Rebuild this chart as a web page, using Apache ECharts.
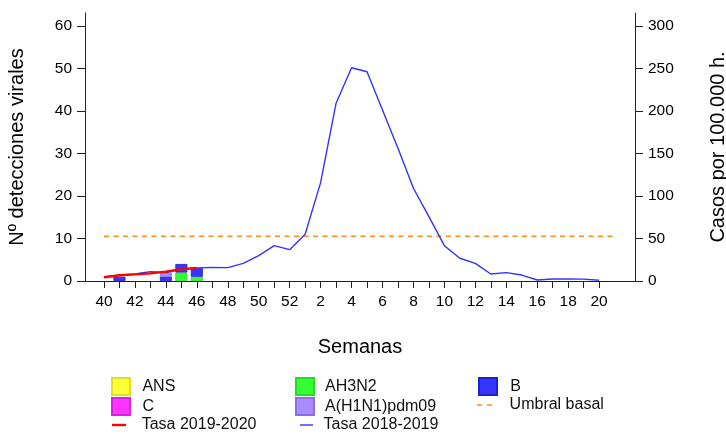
<!DOCTYPE html>
<html>
<head>
<meta charset="utf-8">
<script src="https://cdn.jsdelivr.net/npm/echarts@6/dist/echarts.min.js"></script>
<style>html,body{margin:0;padding:0;background:#fff}#c{width:726px;height:435px}</style>
</head>
<body>
<div id="c"></div>
<script>
// Week labels (x categories), index 0 = week 40
const weeks = [40,41,42,43,44,45,46,47,48,49,50,51,52,1,2,3,4,5,6,7,8,9,10,11,12,13,14,15,16,17,18,19,20,21];
const tickWeeks = [40,41,42,43,44,45,46,47,48,49,50,51,52,1,2,3,4,5,6,7,8,9,10,11,12,13,14,15,16,17,18,19,20];
const labelWeeks = [40,42,44,46,48,50,52,2,4,6,8,10,12,14,16,18,20];

// Virus detections 2019-2020 (weeks 40..46), left axis
const detWeeks = [40,41,42,43,44,45,46];
const detANS   = [0,0,0,0,0,0,0];
const detC     = [0,0,0,0,0,0,0];
const detAH3N2 = [0,0,0,0,0,2,1];
const detB     = [0,1,0,0,1,2,2];
const detH1N1  = [0,0,0,0,1,0,0];

// Rates per 100.000 h. (right axis)
const rate1920 = [4.3,6.7,7.8,9,11,14,15.3];
const rate1819 = [5,6.7,8.2,11,10,13.7,15.3,16,15.7,20.8,29.8,41.5,36.8,55,115.6,209,250.6,245.9,201,156,109,75.6,41.5,26.7,20.8,8.2,9.8,7,1.2,2.4,2.3,2.2,0.8];
const umbralWeeks = [40,21];
const umbralValue = 52.6;

const leftTicks = [0,10,20,30,40,50,60];
const rightTicks = [0,50,100,150,200,250,300];

const idx = w => weeks.indexOf(w);
const FONT = "'Liberation Sans', Arial, sans-serif";
const AX = '#222';
const fs = 15.5;
const lfs = 16;
const nfs = 20;

// [value, weekIndex] so the stacked dimension is the value one
function barData(arr){ return detWeeks.map((w,i)=>[arr[i] === 0 ? null : arr[i], idx(w)]); }

const chart = echarts.init(document.getElementById('c'), null, {renderer:'canvas'});

function leg(name, left, top, w, h, pad, icon){
  return {data:[{name:name, icon:icon}], left:left, top:top, itemWidth:w, itemHeight:h, padding:0, itemGap:0,
    textStyle:{fontFamily:FONT, fontSize:lfs, color:'#111', padding:[0,0,0,pad]}, selectedMode:false};
}

const option = {
  animation:false,
  textStyle:{fontFamily:FONT},
  grid:{left:85, right:91, top:13, bottom:154, outerBoundsMode:'none', containLabel:false},
  legend:[
    leg('ANS', 111, 377, 18, 17, 7.4, 'rect'),
    leg('AH3N2', 295, 377, 18, 17, 6, 'rect'),
    leg('B', 478, 377, 18, 17, 8.3, 'rect'),
    leg('C', 111, 397, 18, 17, 7.4, 'rect'),
    leg('A(H1N1)pdm09', 295, 397, 18, 17, 6, 'rect'),
    leg('Umbral basal', 477, 397, 15, 17, 12.6, 'path://M0,0h5v1.3h-5z M9.5,0h5v1.3h-5z'),
    leg('Tasa 2019-2020', 112, 417, 14, 17, 10.7, 'path://M0,0h14v2.4h-14z'),
    leg('Tasa 2018-2019', 300, 417, 13, 17, 5.6, 'path://M0,0h13v1.4h-13z')
  ],
  xAxis:{
    type:'value', position:'bottom', min:-1.228, max:34.32,
    name:'Semanas', nameLocation:'middle', nameGap:56,
    nameTextStyle:{fontFamily:FONT, fontSize:nfs, color:'#000'},
    axisLine:{show:true, onZero:false, lineStyle:{color:AX, width:1}},
    axisTick:{show:true, length:7, customValues: tickWeeks.map(idx), lineStyle:{color:AX}},
    axisLabel:{customValues: labelWeeks.map(idx), formatter: v => String(weeks[Math.round(v)]), margin:13, fontSize:fs, color:'#000', fontFamily:FONT},
    splitLine:{show:false}
  },
  yAxis:[
    {type:'value', position:'left', min:0, max:63,
     name:'Nº detecciones virales', nameLocation:'middle', nameGap:58,
     nameTextStyle:{fontFamily:FONT, fontSize:nfs, color:'#000'},
     axisLine:{show:true, onZero:false, lineStyle:{color:AX}},
     axisTick:{show:true, length:8, customValues:leftTicks, lineStyle:{color:AX}},
     axisLabel:{customValues:leftTicks, margin:13, fontSize:fs, color:'#000', fontFamily:FONT},
     splitLine:{show:false}},
    {type:'value', position:'right', min:0, max:315,
     name:'Casos por 100.000 h.', nameLocation:'middle', nameGap:73, nameRotate:90,
     nameTextStyle:{fontFamily:FONT, fontSize:nfs, color:'#000'},
     axisLine:{show:true, onZero:false, lineStyle:{color:AX}},
     axisTick:{show:true, length:8, customValues:rightTicks, lineStyle:{color:AX}},
     axisLabel:{customValues:rightTicks, margin:13, fontSize:fs, color:'#000', fontFamily:FONT},
     splitLine:{show:false}}
  ],
  series:[
    {name:'AH3N2', type:'bar', stack:'v', barWidth:12, yAxisIndex:0, encode:{x:1, y:0}, data:barData(detAH3N2),
     itemStyle:{color:'#33ff33', borderColor:'#22dd22', borderWidth:0.8}},
    {name:'B', type:'bar', stack:'v', barWidth:12, yAxisIndex:0, encode:{x:1, y:0}, data:barData(detB),
     itemStyle:{color:'#3535ff', borderColor:'#1f1fcc', borderWidth:0.8}},
    {name:'A(H1N1)pdm09', type:'bar', stack:'v', barWidth:12, yAxisIndex:0, encode:{x:1, y:0}, data:barData(detH1N1),
     itemStyle:{color:'#a98aff', borderColor:'#8a6ee0', borderWidth:0.8}},
    {name:'ANS', type:'bar', stack:'v', barWidth:12, yAxisIndex:0, encode:{x:1, y:0}, data:barData(detANS),
     itemStyle:{color:'#ffff33', borderColor:'#e0e020', borderWidth:0.8}},
    {name:'C', type:'bar', stack:'v', barWidth:12, yAxisIndex:0, encode:{x:1, y:0}, data:barData(detC),
     itemStyle:{color:'#ff33ff', borderColor:'#dd22dd', borderWidth:0.8}},
    {name:'Umbral basal', type:'line', yAxisIndex:1, symbol:'none',
     data: umbralWeeks.map(w=>[idx(w), umbralValue]),
     lineStyle:{color:'#ff8c1a', width:1.3, type:[5,4.5]}, itemStyle:{color:'#ff8c1a'}},
    {name:'Tasa 2018-2019', type:'line', yAxisIndex:1, symbol:'none',
     data: rate1819.map((v,i)=>[idx(tickWeeks[i]), v]),
     lineStyle:{color:'#3333ff', width:1.4}, itemStyle:{color:'#3333ff'}},
    {name:'Tasa 2019-2020', type:'line', yAxisIndex:1, symbol:'none',
     data: rate1920.map((v,i)=>[idx(detWeeks[i]), v]),
     lineStyle:{color:'#ff0000', width:2.4}, itemStyle:{color:'#ff0000'}}
  ]
};
chart.setOption(option);
</script>
</body>
</html>
